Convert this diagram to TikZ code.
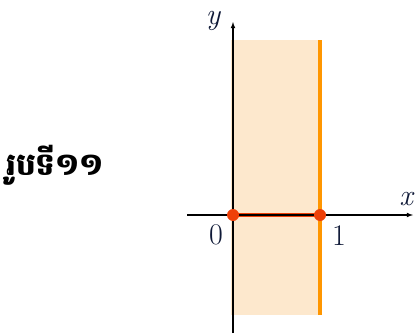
\documentclass[tikz,border=0pt]{standalone}
\usepackage{fontspec}
\newfontfamily\khmerfont[Script=Khmer]{Battambang}
\newcommand{\lblsize}{\fontsize{30}{30}\selectfont}
\definecolor{bandfill}{RGB}{253,232,205}
\definecolor{bandline}{RGB}{255,150,0}
\definecolor{dotred}{RGB}{238,64,8}
\definecolor{lblblue}{RGB}{15,25,55}
\tikzset{
  axis/.style={line width=1.1pt, -latex},
  endpt/.style={circle, fill=dotred, inner sep=0pt, minimum size=12pt},
  lbl/.style={text=lblblue, inner sep=0pt}
}
\begin{document}
\begin{tikzpicture}[x=1pt, y=1pt]
  \useasboundingbox (0,0) rectangle (415,333);

  % the band 0 <= x <= 1
  \fill[bandfill] ({231}, 18) rectangle ({322}, 293);
  \draw[bandline, line width=1.5pt] ({233}, 18) -- ({233}, 293);
  \draw[bandline, line width=3.5pt] ({320}, 18) -- ({320}, 293);

  \coordinate (O) at ({233}, 118);
  \coordinate (A) at ({320}, 118);
  \draw[dotred, line width=3.5pt] (O) -- (A);

  % axes
  \draw[axis] ({187}, 118) -- ({413}, 118);
  \draw[axis] ({233}, 0) -- ({233}, 311);
  \node[lbl] at ({406}, 134) {\lblsize\itshape x};
  \node[lbl] at ({213}, 312) {\lblsize\itshape y};
  \node[lbl] at ({216}, 98) {\lblsize 0};
  \node[lbl] at ({339}, 97) {\lblsize 1};

  \node[endpt] (p0) at (O) {};
  \node[endpt] (p1) at (A) {};

  \node (cap) at ({55}, 168) {\khmerfont\bfseries\fontsize{31}{31}\selectfont រូបទី១១};
\end{tikzpicture}
\end{document}
